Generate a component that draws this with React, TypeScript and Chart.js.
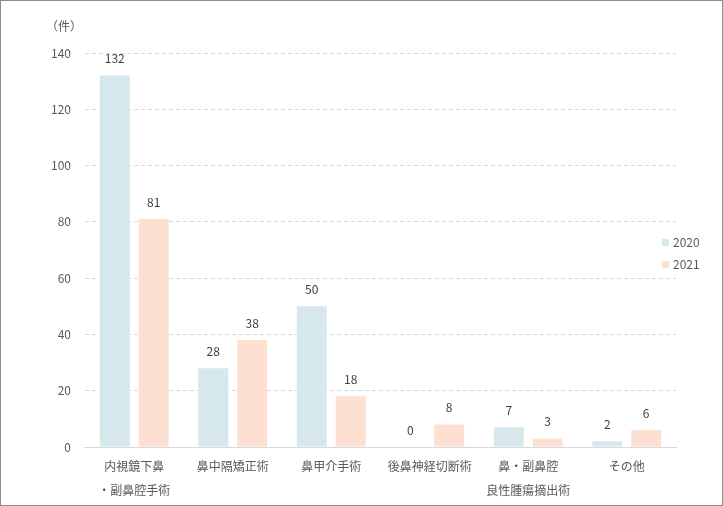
import { useEffect, useRef } from "react";
import { Chart, registerables, type ChartConfiguration, type Plugin } from "chart.js";

Chart.register(...registerables);

const categories: (string | string[])[] = [
  ["内視鏡下鼻", "・副鼻腔手術"],
  "鼻中隔矯正術",
  "鼻甲介手術",
  "後鼻神経切断術",
  ["鼻・副鼻腔", "良性腫瘍摘出術"],
  "その他",
];
const values2020 = [132, 28, 50, 0, 7, 2];
const values2021 = [81, 38, 18, 8, 3, 6];
const seriesNames = ["2020", "2021"];
const unitLabel = "（件）";

const FONT_FAMILY = "'Noto Sans CJK JP', 'Noto Sans', sans-serif";
const TEXT = "#595959";
const C2020 = "#d6e8eb";
const C2021 = "#fde0d1";

// value labels above each bar + unit label + custom legend
const extras: Plugin = {
  id: "extras",
  afterDatasetsDraw(chart) {
    const { ctx, chartArea } = chart;
    ctx.save();
    ctx.font = `12px ${FONT_FAMILY}`;
    ctx.fillStyle = "#404040";
    ctx.textAlign = "center";
    ctx.textBaseline = "middle";
    chart.data.datasets.forEach((ds, i) => {
      chart.getDatasetMeta(i).data.forEach((bar, j) => {
        ctx.fillText(String(ds.data[j]), bar.x, bar.y - 17);
      });
    });

    // unit
    ctx.fillStyle = TEXT;
    ctx.textAlign = "left";
    ctx.fillText(unitLabel, 45, 25);

    // legend
    const midY = (chartArea.top + chartArea.bottom) / 2;
    chart.data.datasets.forEach((ds, i) => {
      const y = midY - 8 + i * 22;
      ctx.fillStyle = ds.backgroundColor as string;
      ctx.fillRect(661, y - 3, 7, 7);
      ctx.fillStyle = TEXT;
      ctx.fillText(ds.label as string, 672, y);
    });
    ctx.restore();
  },
};

export default function App() {
  const canvasRef = useRef<HTMLCanvasElement>(null);

  useEffect(() => {
    document.body.style.margin = "0";
    if (!canvasRef.current) return;

    const cfg: ChartConfiguration<"bar"> = {
      type: "bar",
      data: {
        labels: categories,
        datasets: [
          { label: seriesNames[0], data: values2020, backgroundColor: C2020 },
          { label: seriesNames[1], data: values2021, backgroundColor: C2021 },
        ],
      },
      options: {
        animation: false,
        responsive: true,
        maintainAspectRatio: false,
        categoryPercentage: 0.79,
        barPercentage: 0.77,
        layout: { padding: { top: 52, left: 36, right: 46, bottom: 4 } },
        plugins: {
          legend: { display: false },
          tooltip: { enabled: false },
        },
        scales: {
          x: {
            grid: { display: false },
            border: { display: true, color: "#d9d9d9" },
            ticks: {
              color: TEXT,
              font: { family: FONT_FAMILY, size: 12, lineHeight: 2 },
              padding: -1,
              maxRotation: 0,
              autoSkip: false,
            },
          },
          y: {
            min: 0,
            max: 140,
            grid: { color: "#d9d9d9", drawTicks: false },
            border: { display: false, dash: [4, 3] },
            ticks: {
              stepSize: 20,
              color: TEXT,
              font: { family: FONT_FAMILY, size: 12 },
              padding: 14,
            },
          },
        },
      },
      plugins: [extras],
    };

    const chart = new Chart(canvasRef.current, cfg);
    return () => chart.destroy();
  }, []);

  return (
    <div
      style={{
        width: 723,
        height: 506,
        border: "1px solid #8c8c8c",
        boxSizing: "border-box",
        background: "#fff",
      }}
    >
      <div style={{ position: "relative", width: 721, height: 504 }}>
        <canvas ref={canvasRef} />
      </div>
    </div>
  );
}
